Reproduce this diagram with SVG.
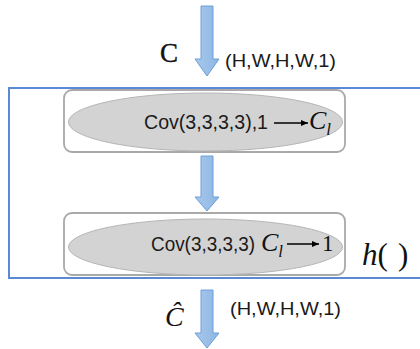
<svg xmlns="http://www.w3.org/2000/svg" width="420" height="349" viewBox="0 0 420 349">
<defs>
<marker id="ah" markerWidth="8" markerHeight="8" refX="7" refY="3" orient="auto" markerUnits="userSpaceOnUse">
<path d="M0,0 L7,3 L0,6 Z" fill="#000"/>
</marker>
<linearGradient id="bg" x1="0" y1="0" x2="1" y2="0">
<stop offset="0" stop-color="#a9c8ec"/>
<stop offset="1" stop-color="#8db6e3"/>
</linearGradient>
</defs>
<style>
.blk{fill:url(#bg);stroke:#6a9fd8;stroke-width:1}
.box{fill:#fff;stroke:#a9a9a9;stroke-width:1.8}
.ell{fill:#d3d3d3;stroke:#b5b5b5;stroke-width:1}
.sans{font-family:"Liberation Sans",Arial,sans-serif;fill:#1a1a1a}
.serif{font-family:"Liberation Serif","Times New Roman",serif;fill:#111}
.it{font-style:italic}
.ln{stroke:#000;stroke-width:1.5;marker-end:url(#ah)}
</style>
<rect width="420" height="349" fill="#fff"/>
<rect x="9" y="88" width="420" height="190" fill="none" stroke="#5a8ad6" stroke-width="2"/>
<g id="connectors">
<path class="blk" d="M201,6 H213 V59 H219 L207,76 L195,59 H201 Z"/>
<path class="blk" d="M201,156 H213 V197 H219 L207,211 L195,197 H201 Z"/>
<path class="blk" d="M201,290 H213 V333 H219 L207,348 L195,333 H201 Z"/>
</g>
<g id="input-label">
<text class="serif" x="160" y="62" font-size="27" stroke="#111" stroke-width="0.4">C</text>
<text class="sans" x="225" y="67" font-size="18" textLength="111" lengthAdjust="spacingAndGlyphs">(H,W,H,W,1)</text>
</g>
<g id="node1">
<rect class="box" x="64" y="90" width="281" height="62" rx="8"/>
<ellipse class="ell" cx="205.5" cy="122" rx="137" ry="29"/>
<text class="sans" x="144" y="129" font-size="20" textLength="124" lengthAdjust="spacingAndGlyphs">Cov(3,3,3,3),1</text>
<line class="ln" x1="274" y1="123" x2="308" y2="123"/>
<text class="serif it" x="309" y="129" font-size="26">C<tspan font-size="17" dy="6">l</tspan></text>
</g>
<g id="node2">
<rect class="box" x="64" y="213" width="281" height="62" rx="8"/>
<ellipse class="ell" cx="205.5" cy="247" rx="137" ry="28"/>
<text class="sans" x="151" y="251" font-size="20" textLength="104" lengthAdjust="spacingAndGlyphs">Cov(3,3,3,3)</text>
<text class="serif it" x="261" y="251" font-size="26">C<tspan font-size="17" dy="6">l</tspan></text>
<line class="ln" x1="287" y1="244" x2="319" y2="244"/>
<text class="serif" x="322" y="251" font-size="23">1</text>
</g>
<g id="func-label">
<text class="serif" x="362" y="265" font-size="31"><tspan class="it">h</tspan>(</text>
<text class="serif" x="398" y="265" font-size="31">)</text>
</g>
<g id="output-label">
<text class="serif it" x="165" y="326" font-size="28">Ĉ</text>
<text class="sans" x="230" y="315" font-size="18" textLength="111" lengthAdjust="spacingAndGlyphs">(H,W,H,W,1)</text>
</g>
</svg>
